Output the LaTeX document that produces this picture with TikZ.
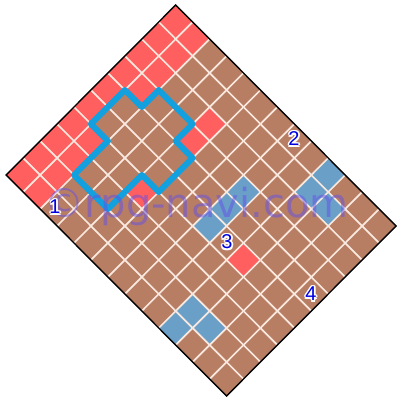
\documentclass[tikz,border=0pt]{standalone}
\usepackage{fontspec}
\setmainfont{Liberation Sans}
\newfontfamily\wmfont{DejaVu Sans}
\definecolor{cellbrown}{RGB}{184,126,100}
\definecolor{cellred}{RGB}{255,95,95}
\definecolor{cellblue}{RGB}{106,160,200}
\definecolor{gridcol}{RGB}{248,232,222}
\definecolor{crosscol}{RGB}{18,160,222}
\definecolor{labcol}{RGB}{0,0,225}
\definecolor{wmcol}{RGB}{100,80,230}
\tikzset{
  gridline/.style={draw=gridcol, line width=1.7pt},
  redcell/.style={fill=cellred},
  bluecell/.style={fill=cellblue},
  browncell/.style={fill=cellbrown},
  crossline/.style={draw=crosscol, line width=6pt, line join=round},
  border/.style={draw=black, line width=1.4pt, line join=miter},
  numlab/.style={font=\fontsize{20}{20}\selectfont, text=labcol, inner sep=0pt},
  halo/.style={font=\fontsize{20}{20}\selectfont, text=white, inner sep=0pt},
  wm/.style={font=\wmfont\fontsize{40}{40}\selectfont, text=wmcol, text opacity=0.5, inner sep=0pt, anchor=base west}
}
\newcommand\cellat[3]{\fill[#1] (#2,#3) -- ++(1,0) -- ++(0,1) -- ++(-1,0) -- cycle;}
\newcommand\halolabel[3]{%
  \foreach \hx/\hy [count=\hk] in {-1.6/0,1.6/0,0/-1.6,0/1.6,-1.15/-1.15,1.15/1.15,-1.15/1.15,1.15/-1.15}{%
    \node[halo, xshift=\hx pt, yshift=\hy pt] (#1halo\hk) at (#2) {#3};}
  \node[numlab] (#1) at (#2) {#3};}
\begin{document}
\begin{tikzpicture}[x=1pt,y=-1pt]
\useasboundingbox (0,0) rectangle (402,402);
\fill[white] (0,0) rectangle (402,402);
\begin{scope}[shift={(175.7,5)}, x={(16.95pt,-17pt)}, y={(-16.95pt,-17pt)}]
  \fill[browncell] (0,0) -- (13,0) -- (13,10) -- (0,10) -- cycle;
  \foreach \b in {0,...,9} {\cellat{redcell}{0}{\b}}
  \foreach \a/\b in {1/0,1/1,1/2,1/3,1/6,1/7,1/8,1/9,4/2,4/3,4/6,9/5} {\cellat{redcell}{\a}{\b}}
  \foreach \a/\b in {9/0,9/1,10/1,7/3,7/4,7/5,9/8,9/9,10/8} {\cellat{bluecell}{\a}{\b}}
  \foreach \k in {1,...,12} {\draw[gridline] (\k,0) -- (\k,10);}
  \foreach \k in {1,...,9} {\draw[gridline] (0,\k) -- (13,\k);}
  \draw[crossline] (1,4) -- (2,4) -- (2,3) -- (4,3) -- (4,4) -- (5,4) -- (5,6) -- (4,6) -- (4,8) -- (2,8) -- (2,6) -- (1,6) -- cycle;
  \draw[border] (0,0) -- (13,0) -- (13,10) -- (0,10) -- cycle;
\end{scope}
\node[wm] (watermark) at (44,217) {©rpg-navi.com};
\halolabel{one}{55,207}{1}
\halolabel{two}{294,139}{2}
\halolabel{three}{227,242}{3}
\halolabel{four}{311,294}{4}
\end{tikzpicture}
\end{document}
